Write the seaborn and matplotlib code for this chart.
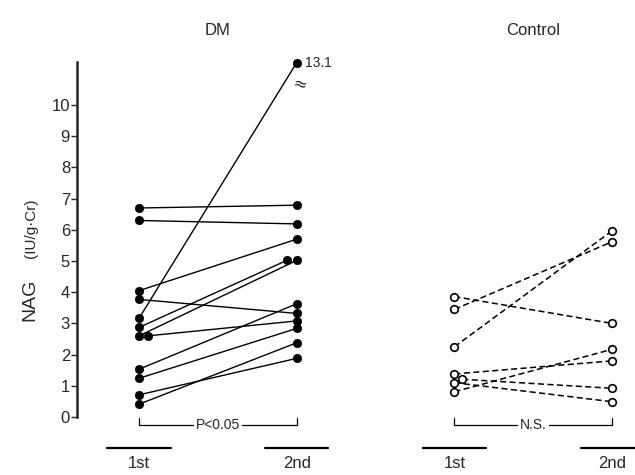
import numpy as np
import pandas as pd
import matplotlib
matplotlib.use("Agg")
import matplotlib.pyplot as plt
import seaborn as sns

# --- values (NAG, IU/g Cr) ---
dm_first = [6.7, 6.3, 4.05, 3.77, 3.16, 2.87, 2.6, 2.6, 1.53, 1.24, 0.71, 0.41]
dm_second = [6.79, 6.19, 5.70, 3.32, 13.1, 5.02, 5.02, 3.08, 3.63, 2.84, 1.88, 2.38]
ctrl_first = [3.86, 3.45, 2.25, 1.38, 1.21, 1.10, 0.81]
ctrl_second = [3.0, 5.62, 5.97, 1.80, 0.92, 0.49, 2.17]

groups = ["DM", "Control"]
visits = ["1st", "2nd"]
yticks = list(range(0, 11))
p_labels = ["P<0.05", "N.S."]

# small sideways nudges for overlapping dots (layout only)
dm_nudge_1st = {7: 0.055}
dm_nudge_2nd = {5: -0.063}
ctrl_nudge_1st = {4: 0.05}

BREAK_AT = 11.0      # values above this are drawn on the broken top of the axis
BREAK_POS = 11.36
Y_TOP = 11.38


def long_table(first, second, base, nudge1, nudge2, tag):
    rows = []
    for i, (a, b) in enumerate(zip(first, second)):
        rows.append(dict(subject=f"{tag}{i}", pos=base + nudge1.get(i, 0), value=a))
        rows.append(dict(subject=f"{tag}{i}", pos=base + 1 + nudge2.get(i, 0), value=b))
    df = pd.DataFrame(rows)
    df["shown"] = np.where(df["value"] > BREAK_AT, BREAK_POS, df["value"])
    return df


dm = long_table(dm_first, dm_second, 0, dm_nudge_1st, dm_nudge_2nd, "d")
ctrl = long_table(ctrl_first, ctrl_second, 2, ctrl_nudge_1st, {}, "c")

sns.set_style("white")
plt.rcParams["font.family"] = ["Liberation Sans Narrow", "Liberation Sans", "DejaVu Sans"]

fig = plt.figure(figsize=(6.35, 4.75), dpi=100)
ax = fig.add_axes([77 / 635, 0, 1 - 77 / 635, (475 - 62) / 475])
ax.set_xlim(-0.393, 3.145)
ax.set_ylim(-1.859, Y_TOP)

# lines
sns.lineplot(data=dm, x="pos", y="shown", units="subject", estimator=None, sort=False,
             color="black", lw=1.0, ax=ax, legend=False)
sns.lineplot(data=ctrl, x="pos", y="shown", units="subject", estimator=None, sort=False,
             color="black", lw=1.1, ax=ax, legend=False, linestyle=(0, (4, 2.2)))

# markers
sns.scatterplot(data=dm, x="pos", y="shown", color="black", s=36, edgecolor="black",
                linewidth=0.5, ax=ax, zorder=5, clip_on=False, legend=False)
sns.scatterplot(data=ctrl, x="pos", y="shown", facecolor="white", s=30, edgecolor="black",
                linewidth=1.2, ax=ax, zorder=5, clip_on=False, legend=False)

# broken value annotation
top = dm[dm["value"] > BREAK_AT].iloc[0]
ax.text(top["pos"] + 0.055, BREAK_POS, f"{top['value']:.1f}", fontsize=10,
        va="center", ha="left")
ax.text(top["pos"] + 0.02, 10.68, "≈", fontsize=12, va="center", ha="center",
        rotation=-15, family="DejaVu Sans")

# axis styling
for side in ["top", "right", "bottom"]:
    ax.spines[side].set_visible(False)
ax.spines["left"].set_bounds(0, Y_TOP)
ax.spines["left"].set_linewidth(1.8)
ax.set_yticks(yticks)
ax.set_yticklabels([str(t) for t in yticks], fontsize=12)
ax.tick_params(axis="y", direction="out", length=4, width=1, pad=1, left=True)
ax.set_xticks([])
ax.set_xlabel("")
ax.set_ylabel("")

# visit labels with underlines, group titles, significance brackets
for g, name in enumerate(groups):
    base = 2 * g
    for v, lab in enumerate(visits):
        x = base + v
        ax.plot([x - 0.2, x + 0.2], [-0.99, -0.99], color="black", lw=1.6, clip_on=False)
        ax.text(x, -1.5, lab, fontsize=12, ha="center", va="center")
    ax.text(base + 0.5, 12.4, name, fontsize=12, ha="center", va="center", clip_on=False)
    ax.plot([base, base, base + 1, base + 1], [-0.03, -0.26, -0.26, -0.03],
            color="black", lw=0.9, clip_on=False)
    ax.text(base + 0.5, -0.26, p_labels[g], fontsize=10, ha="center", va="center",
            bbox=dict(facecolor="white", edgecolor="none", pad=1.5))

# y label: "NAG" large, unit smaller
fig.text(30 / 635, (475 - 300) / 475, "NAG", rotation=90, fontsize=14,
         ha="center", va="center")
fig.text(31 / 635, (475 - 228) / 475, "(IU/g·Cr)", rotation=90, fontsize=11,
         ha="center", va="center", family=["Liberation Sans", "DejaVu Sans"])

fig.savefig("out.png", dpi=100)
